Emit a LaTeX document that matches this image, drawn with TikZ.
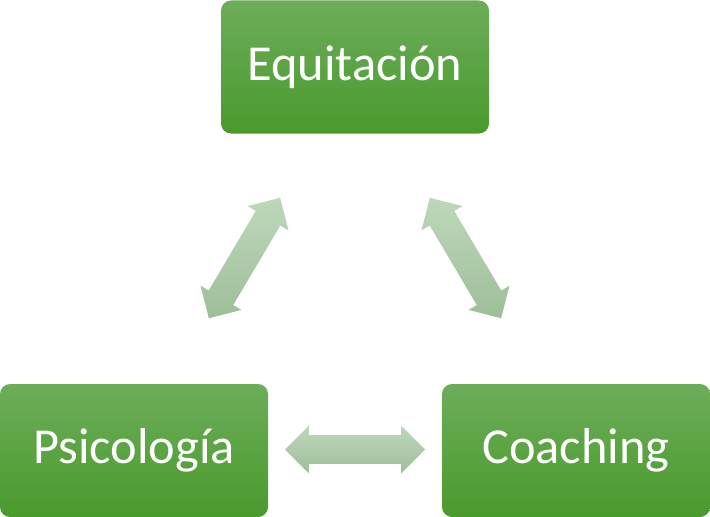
\documentclass[tikz,border=0pt]{standalone}
\usepackage{fontspec}
\setmainfont{Carlito}
\usetikzlibrary{shapes.arrows}
\definecolor{boxtop}{RGB}{108,173,90}
\definecolor{boxbot}{RGB}{74,154,44}
\definecolor{arrlight}{RGB}{190,215,187}
\definecolor{arrdark}{RGB}{158,190,153}
\tikzset{
  box/.style={draw=none, rounded corners=7.5pt, minimum width=201pt, minimum height=99.75pt,
    top color=boxtop, bottom color=boxbot, text=white, inner sep=0pt,
    font=\fontsize{37.8}{45}\selectfont},
  barrow/.style={double arrow, draw=none, minimum height=105pt, minimum width=35.25pt,
    double arrow head extend=7.125pt, inner xsep=0pt, inner ysep=10.5pt,
    top color=arrlight, bottom color=arrdark},
}
\begin{document}
\begin{tikzpicture}[x=0.75pt,y=-0.75pt]
\useasboundingbox (0,0) rectangle (710,517);
\node[box] (equ) at (355,67) {Equitación};
\node[box] (psi) at (134,450.5) {Psicología};
\node[box] (coa) at (576,450.5) {Coaching};
\node[barrow, rotate=59.4] (a1) at (244.5,258) {};
\node[barrow, rotate=120.6] (a2) at (465.5,258) {};
\node[barrow] (a3) at (355,449.5) {};
\end{tikzpicture}
\end{document}
